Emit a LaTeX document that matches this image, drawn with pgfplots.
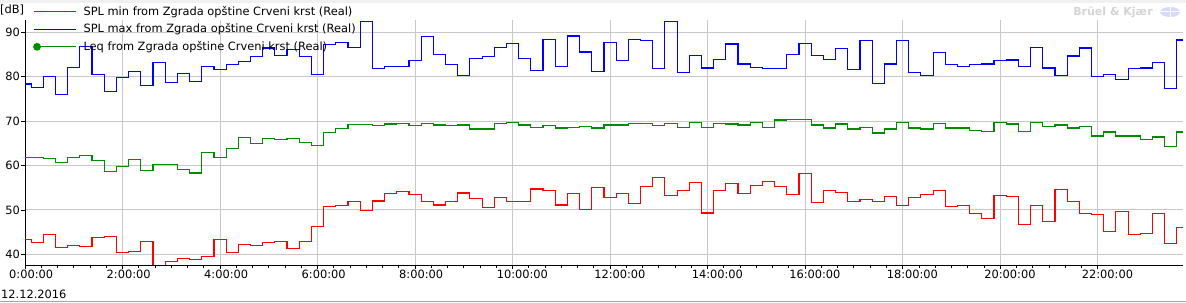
\documentclass[border=0pt]{standalone}
\usepackage{fontspec}
\setmainfont{DejaVu Sans}
\usepackage{pgfplots}
\pgfplotsset{compat=1.18}
\usepackage{pgfplotstable}
\definecolor{splmin}{RGB}{255,0,0}
\definecolor{splmax}{RGB}{0,0,255}
\definecolor{leqc}{RGB}{0,140,0}
\definecolor{gridc}{RGB}{200,200,200}
\newcommand{\chartfont}{\fontsize{11.4bp}{13.7bp}\selectfont}

\pgfplotstableread{
i min max leq
0 43.4 78.3 61.7
1 42.7 77.5 61.7
2 44.5 80.0 61.5
3 41.6 76.0 60.6
4 42.0 82.0 61.7
5 41.8 86.8 62.3
6 43.8 80.5 61.1
7 44.1 76.6 58.6
8 40.5 79.8 59.7
9 40.7 81.1 61.3
10 42.9 78.0 58.8
11 36.0 83.2 60.2
12 38.4 78.6 60.2
13 39.1 80.7 59.0
14 38.9 78.9 58.3
15 39.5 82.3 62.9
16 43.4 81.6 61.7
17 40.5 82.6 63.8
18 42.3 83.3 66.2
19 42.0 84.4 64.9
20 42.7 86.4 66.0
21 42.9 84.8 65.8
22 41.4 86.0 66.0
23 42.9 84.5 65.1
24 46.2 80.4 64.4
25 50.7 87.1 67.4
26 50.9 87.7 68.3
27 51.8 86.6 69.2
28 49.8 92.3 69.2
29 52.0 81.7 69.0
30 53.6 82.2 69.3
31 54.1 82.3 69.5
32 53.4 83.5 68.9
33 51.9 88.9 69.5
34 51.1 85.0 69.1
35 51.9 82.6 68.9
36 53.8 80.3 69.1
37 52.5 84.0 68.2
38 50.5 84.4 68.2
39 52.7 86.6 69.5
40 51.9 87.5 69.7
41 51.9 84.0 69.1
42 54.7 81.4 68.6
43 54.4 88.4 68.9
44 51.1 82.3 68.4
45 53.6 89.1 68.6
46 50.0 85.5 68.8
47 55.0 81.2 68.4
48 52.7 87.7 69.1
49 53.6 83.5 69.1
50 51.4 88.4 69.5
51 55.2 88.0 69.5
52 57.2 81.7 68.9
53 53.2 92.3 69.5
54 54.3 80.8 68.6
55 56.1 84.8 69.7
56 49.3 81.9 68.6
57 54.4 83.8 69.5
58 55.9 87.3 69.3
59 53.6 82.8 69.1
60 55.4 82.1 69.7
61 56.3 81.7 68.6
62 55.2 81.7 70.2
63 53.4 85.0 70.4
64 58.1 87.5 70.4
65 51.7 84.8 69.1
66 54.4 83.8 68.4
67 54.0 86.2 69.3
68 51.9 81.5 68.2
69 52.4 88.0 68.6
70 51.9 78.5 67.3
71 53.1 82.8 68.2
72 51.0 88.0 69.7
73 52.8 80.8 68.4
74 53.5 80.3 68.2
75 54.4 85.3 69.5
76 50.8 82.6 68.4
77 51.0 82.3 68.4
78 49.2 82.6 67.9
79 48.1 82.8 67.7
80 53.3 83.5 69.7
81 53.1 83.7 69.3
82 46.8 82.3 67.7
83 51.0 86.6 69.7
84 47.4 81.9 68.8
85 54.6 80.3 69.1
86 51.9 84.6 68.4
87 49.2 86.4 68.8
88 49.0 79.9 66.6
89 45.2 80.5 67.5
90 49.7 79.4 66.6
91 44.5 81.7 66.6
92 44.7 81.9 65.9
93 49.2 83.2 66.4
94 42.5 77.2 64.3
95 46.1 88.2 67.5
}\data

\begin{document}
\begin{tikzpicture}[x=1bp,y=1bp]
\useasboundingbox (0,0) rectangle (1186bp,303bp);
\fill[white] (0,0) rectangle (1186bp,303bp);
\fill[black!6] (0,300bp) rectangle (1186bp,303bp);
\draw[black!35, line width=1bp] (0,1.5bp) -- (1186bp,1.5bp);
\begin{axis}[
  at={(25bp,38bp)}, anchor=south west,
  scale only axis, width=1158bp, height=245bp,
  xmin=0, xmax=95, ymin=37.6, ymax=92.7,
  axis x line*=bottom, axis y line*=left,
  axis line style={black, line width=0.9bp, -},
  xtick={0,8,...,88},
  xticklabels={0:00:00,2:00:00,4:00:00,6:00:00,8:00:00,10:00:00,12:00:00,14:00:00,16:00:00,18:00:00,20:00:00,22:00:00},
  minor x tick num=5,
  ytick={40,50,...,90},
  xmajorgrids, ymajorgrids,
  major grid style={gridc, line width=0.8bp},
  tick align=outside,
  major tick length=4bp, minor tick length=3bp,
  tick style={black, line width=0.7bp},
  font=\chartfont,
  /pgf/number format/assume math mode=true,
  xticklabel style={anchor=north west, xshift=-16bp, yshift=-1bp, inner sep=0pt},
  yticklabel style={anchor=east, inner sep=0pt, xshift=-1bp},
  legend style={at={(axis description cs:0.0069,1.061)}, anchor=north west,
    draw=none, fill=none, inner sep=0pt, row sep=5bp,
    font=\chartfont, nodes={inner xsep=2bp, inner ysep=1bp}},
  legend cell align=left,
  /tikz/every odd column/.append style={column sep=5bp},
]
\addplot[splmin, line width=1.15bp, const plot mark mid,
  legend image code/.code={\draw[splmin, line width=1bp] (0bp,0bp) -- (42bp,0bp);}] table[x=i, y=min] {\data};
\addlegendentry{SPL min from Zgrada opštine Crveni krst (Real)}
\addplot[splmax, line width=1.15bp, const plot mark mid,
  legend image code/.code={\draw[splmax, line width=1bp] (0bp,0bp) -- (42bp,0bp);}] table[x=i, y=max] {\data};
\addlegendentry{SPL max from Zgrada opštine Crveni krst (Real)}
\addplot[leqc, line width=1.15bp, const plot mark mid,
  legend image code/.code={\draw[leqc, line width=1bp] (3bp,0bp) -- (42bp,0bp); \fill[leqc] (3bp,0bp) circle (3.3bp);}] table[x=i, y=leq] {\data};
\addlegendentry{Leq from Zgrada opštine Crveni krst (Real)}
\end{axis}
\node[anchor=west, inner sep=0pt, font=\chartfont] at (0bp,293bp) {[dB]};
\node[anchor=west, inner sep=0pt, font=\chartfont] at (1bp,9bp) {12.12.2016};
\node[anchor=center, inner sep=0pt, text=black!17, font=\fontsize{11bp}{13bp}\selectfont\bfseries] at (1113bp,291bp) {Brüel \& Kjær};
\fill[blue!15] (1170bp,291bp) ellipse (10bp and 5bp);
\draw[white, line width=1bp] (1160bp,291bp) -- (1180bp,291bp);
\draw[white, line width=1bp] (1170bp,286bp) -- (1170bp,296bp);
\end{tikzpicture}
\end{document}
